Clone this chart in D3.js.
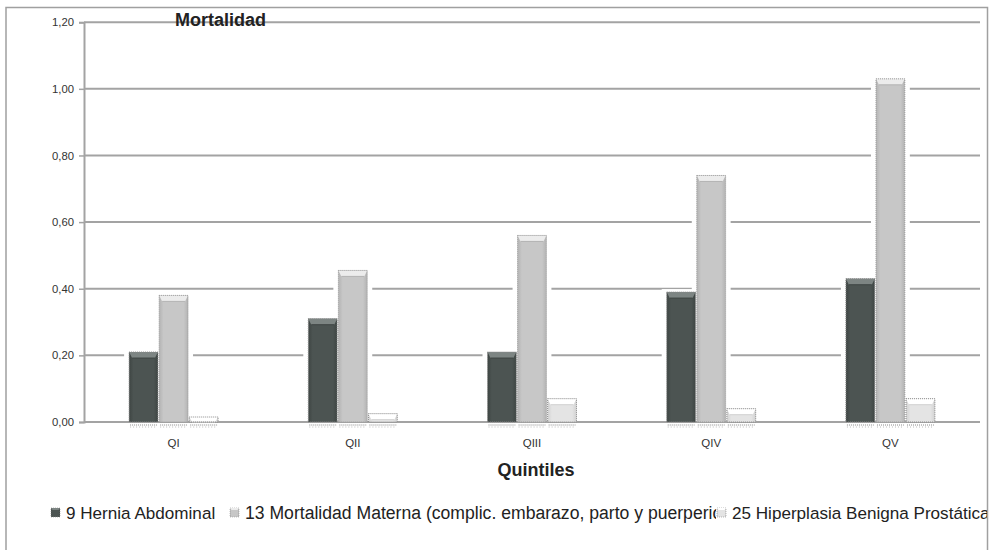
<!DOCTYPE html>
<html><head><meta charset="utf-8">
<script src="https://cdn.jsdelivr.net/npm/d3@7"></script>
<style>body{margin:0;background:#fff;}svg{display:block;font-family:"Liberation Sans",Arial,sans-serif;}</style>
</head><body>
<svg id="chart" width="996" height="550"></svg>
<script>
const categories = ["QI","QII","QIII","QIV","QV"];
const seriesNames = ["9 Hernia Abdominal","13 Mortalidad Materna (complic. embarazo, parto y puerperio)","25 Hiperplasia Benigna Prostática"];
const hernia = [0.21,0.31,0.21,0.39,0.43];
const materna = [0.38,0.455,0.56,0.74,1.03];
const prostatica = [0.015,0.025,0.07,0.04,0.07];
const yTicks = [0,0.2,0.4,0.6,0.8,1.0,1.2];
const seriesColors = [
  {fill:"#4c5452", edge:"#3e4543", top:"#7d8583", stroke:"#8a8a8a"},
  {fill:"#c7c7c7", edge:"#b3b3b3", top:"#ececec", stroke:"#9a9a9a"},
  {fill:"#e4e4e4", edge:"#d2d2d2", top:"#ffffff", stroke:"#8a8a8a"}
];
const seriesData = [hernia, materna, prostatica];

(function(){
const svg = d3.select("#chart");
const defs = svg.append("defs");
seriesColors.forEach((c,i)=>{
  const g = defs.append("linearGradient").attr("id","g"+i).attr("x1","0").attr("x2","1").attr("y1","0").attr("y2","0");
  g.append("stop").attr("offset","0").attr("stop-color",c.edge);
  g.append("stop").attr("offset","0.15").attr("stop-color",c.fill);
  g.append("stop").attr("offset","0.85").attr("stop-color",c.fill);
  g.append("stop").attr("offset","1").attr("stop-color",c.edge);
});
defs.append("clipPath").attr("id","clipLeg2").append("rect").attr("x",0).attr("y",480).attr("width",716).attr("height",60);
defs.append("clipPath").attr("id","clipAll").append("rect").attr("x",0).attr("y",0).attr("width",987).attr("height",550);

// outer border
svg.append("rect").attr("x",6).attr("y",7.5).attr("width",981.5).attr("height",560)
  .attr("fill","none").attr("stroke","#a0a0a0").attr("stroke-width",1.5);

const pL = 84, pR = 980, pT = 22.2, pB = 422;
const y = d3.scaleLinear().domain([0,1.2]).range([pB, pT]);
const x = d3.scaleBand().domain(categories).range([pL,pR]).paddingInner(0.49).paddingOuter(0.245);
const xs = d3.scaleBand().domain(d3.range(seriesNames.length)).range([0, x.bandwidth()]).padding(0.04);

// gridlines
svg.append("g").selectAll("line").data(yTicks.filter(d=>d>0)).join("line")
  .attr("x1",pL).attr("x2",pR).attr("y1",d=>y(d)).attr("y2",d=>y(d))
  .attr("stroke","#a3a3a3").attr("stroke-width",2);

// title
svg.append("text").attr("x",175).attr("y",26).attr("font-size",18).attr("font-weight","bold")
  .attr("fill","#222").text("Mortalidad");

// y axis
const yAxis = d3.axisLeft(y).tickValues(yTicks).tickSize(5).tickPadding(5)
  .tickFormat(d=>d3.format(".2f")(d).replace(".",","));
const ya = svg.append("g").attr("transform",`translate(${pL},0)`).call(yAxis);
ya.select(".domain").attr("stroke","#a3a3a3").attr("stroke-width",2);
ya.selectAll(".tick line").attr("stroke","#a3a3a3").attr("stroke-width",1.5);
ya.selectAll(".tick text").attr("font-size",11.3).attr("fill","#333").attr("font-family","Liberation Sans, Arial, sans-serif");

const bars = [];
categories.forEach((c,ci)=>{
  seriesData.forEach((s,si)=>{ bars.push({c, si, v:s[ci]}); });
});
const bw = xs.bandwidth();
svg.append("g").selectAll("rect").data(bars).join("rect")
  .attr("x",d=>x(d.c)+xs(d.si)-5).attr("y",d=>y(d.v)-3)
  .attr("width",bw+10).attr("height",d=>pB-y(d.v)+2)
  .attr("fill","#fff");

svg.append("line").attr("x1",pL).attr("x2",pR).attr("y1",pB).attr("y2",pB)
  .attr("stroke","#a3a3a3").attr("stroke-width",2);

const bg = svg.append("g").selectAll("g").data(bars).join("g")
  .attr("transform",d=>`translate(${x(d.c)+xs(d.si)},0)`);
bg.append("rect").attr("x",0).attr("y",d=>y(d.v)).attr("width",bw).attr("height",d=>pB-y(d.v))
  .attr("fill",d=>`url(#g${d.si})`);
bg.append("path").attr("d",d=>{
    const t=y(d.v), h=Math.min(6,(pB-t));
    return `M0,${t}L${bw},${t}L${bw-3},${t+h}L3,${t+h}Z`;
  }).attr("fill",d=>seriesColors[d.si].top);
bg.append("line").attr("x1",3).attr("x2",bw-3)
  .attr("y1",d=>y(d.v)+Math.min(6,pB-y(d.v))).attr("y2",d=>y(d.v)+Math.min(6,pB-y(d.v)))
  .attr("stroke",d=>seriesColors[d.si].edge).attr("stroke-width",1);
bg.append("rect").attr("x",0).attr("y",d=>y(d.v)).attr("width",bw).attr("height",d=>pB-y(d.v))
  .attr("fill","none").attr("stroke",d=>seriesColors[d.si].stroke).attr("stroke-width",1).attr("stroke-dasharray","1,1");
bg.append("line").attr("x1",1).attr("x2",bw-1).attr("y1",pB+3).attr("y2",pB+3)
  .attr("stroke","#888").attr("stroke-width",1).attr("stroke-dasharray","1,1");
bg.append("line").attr("x1",1).attr("x2",bw-1).attr("y1",pB+5).attr("y2",pB+5)
  .attr("stroke","#bbb").attr("stroke-width",1).attr("stroke-dasharray","1,2");

svg.append("g").selectAll("text").data(categories).join("text")
  .attr("x",d=>x(d)+x.bandwidth()/2).attr("y",447).attr("text-anchor","middle")
  .attr("font-size",11.5).attr("fill","#333").text(d=>d);

svg.append("text").attr("x",(pL+pR)/2+4).attr("y",476).attr("text-anchor","middle")
  .attr("font-size",18).attr("font-weight","bold").attr("fill","#222").text("Quintiles");

const legX = [51, 230, 717];
const legFs = [17.1, 17.6, 17.1];
const lg = svg.append("g").attr("clip-path","url(#clipAll)");
seriesNames.forEach((n,i)=>{
  const t = lg.append("text").attr("x",legX[i]+15).attr("y",519).attr("font-size",legFs[i]).attr("fill","#222").text(n);
  if(i===1) t.attr("clip-path","url(#clipLeg2)");
});
seriesNames.forEach((n,i)=>{
  const m = lg.append("g").attr("transform",`translate(${legX[i]-1},${507})`);
  m.append("rect").attr("x",0).attr("y",0).attr("width",11).attr("height",11).attr("fill","#fff");
  m.append("rect").attr("x",1).attr("y",1).attr("width",9).attr("height",9).attr("fill",`url(#g${i})`)
    .attr("stroke",seriesColors[i].stroke).attr("stroke-width",0.6).attr("stroke-dasharray","1,1");
  m.append("path").attr("d","M1,1L10,1L8.5,3L2.5,3Z").attr("fill",seriesColors[i].top);
});
})();
</script>
</body></html>
